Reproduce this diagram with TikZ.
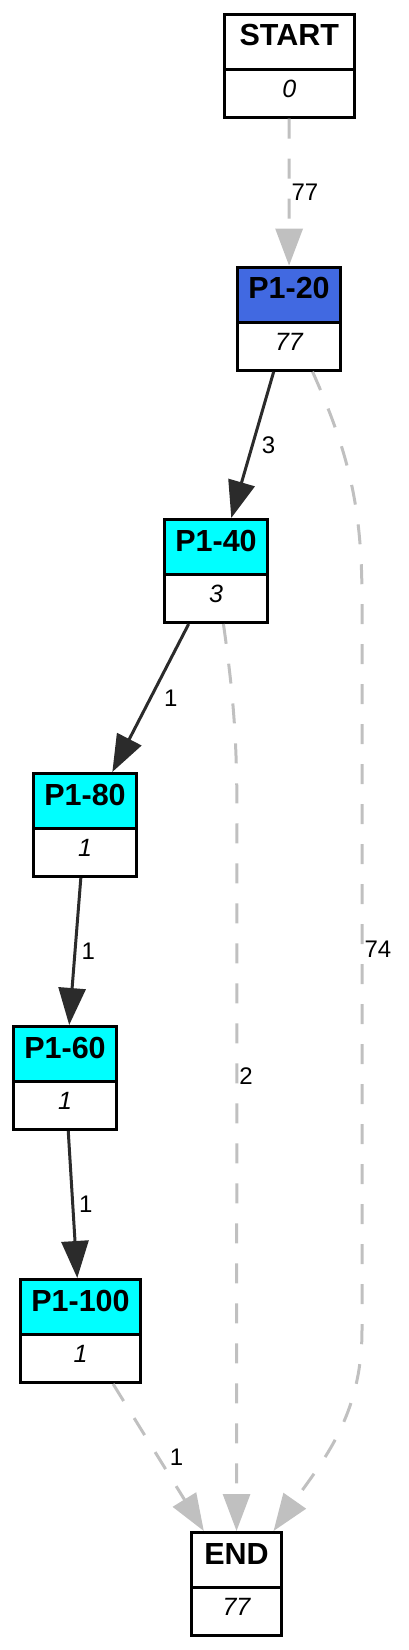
\documentclass[tikz,border=0pt]{standalone}
\usepackage{fontspec}
\setmainfont{Liberation Sans}
\usetikzlibrary{arrows.meta, positioning, fit}
\definecolor{royal}{HTML}{4169E1}
\definecolor{aqua}{HTML}{00FFFF}
\definecolor{edgedark}{HTML}{2B2B2B}
\definecolor{edgegray}{HTML}{C0C0C0}

\begin{document}
\begin{tikzpicture}[x=1pt, y=1pt,
    head/.style={rectangle, draw=black, line width=3pt, outer sep=0pt, inner sep=0pt,
                 minimum height=55pt, font=\fontsize{30.5}{34}\selectfont\bfseries,
                 text height=21.8pt, text depth=13.4pt},
    num/.style={rectangle, draw=black, fill=white, line width=3pt, outer sep=0pt, inner sep=0pt,
                minimum height=48pt, font=\fontsize{25}{30}\selectfont\itshape,
                text height=17.9pt, text depth=9.5pt},
    frame/.style={inner sep=0pt, outer sep=1.5pt},
    flow/.style={-{Triangle[length=37pt, width=27pt]}, line width=3pt, color=edgedark},
    skip/.style={-{Triangle[length=37pt, width=27pt]}, line width=3pt, color=edgegray,
                 dash pattern=on 20pt off 20pt},
    lbl/.style={font=\fontsize{24}{28}\selectfont, text=black, inner sep=1pt}
  ]
    \useasboundingbox (0,0) rectangle (408,-1650);

    % Boxes
    \node[head, fill=white, minimum width=130.3pt] (starth) at (289.3,-41.7) {START};
    \node[num, minimum width=130.3pt, below=0pt of starth] (startn) {0};
    \node[frame, fit=(starth)(startn)] (start) {};

    \node[head, fill=royal, minimum width=103pt] (p20h) at (289,-294.7) {P1-20};
    \node[num, minimum width=103pt, below=0pt of p20h] (p20n) {77};
    \node[frame, fit=(p20h)(p20n)] (p20) {};

    \node[head, fill=aqua, minimum width=103pt] (p40h) at (216,-547) {P1-40};
    \node[num, minimum width=103pt, below=0pt of p40h] (p40n) {3};
    \node[frame, fit=(p40h)(p40n)] (p40) {};

    \node[head, fill=aqua, minimum width=103pt] (p80h) at (85,-801) {P1-80};
    \node[num, minimum width=103pt, below=0pt of p80h] (p80n) {1};
    \node[frame, fit=(p80h)(p80n)] (p80) {};

    \node[head, fill=aqua, minimum width=103pt] (p60h) at (65,-1054) {P1-60};
    \node[num, minimum width=103pt, below=0pt of p60h] (p60n) {1};
    \node[frame, fit=(p60h)(p60n)] (p60) {};

    \node[head, fill=aqua, minimum width=120pt] (p100h) at (80.5,-1307) {P1-100};
    \node[num, minimum width=120pt, below=0pt of p100h] (p100n) {1};
    \node[frame, fit=(p100h)(p100n)] (p100) {};

    \node[head, fill=white, minimum width=90pt] (endh) at (236.5,-1560) {END};
    \node[num, minimum width=90pt, below=0pt of endh] (endn) {77};
    \node[frame, fit=(endh)(endn)] (end) {};

    % Transitions
    \draw[skip] (start) -- node[lbl, right=0pt] {77} (p20);
    \draw[flow] (p20) -- node[lbl, right=7pt] {3} (p40);
    \draw[flow] (p40) -- node[lbl, right=11pt] {1} (p80);
    \draw[flow] (p80) -- node[lbl, right=4pt] {1} (p60);
    \draw[flow] (p60) -- node[lbl, right=4pt] {1} (p100);
    \draw[skip] (p100) -- node[lbl, right=9pt] {1} (end);

    % Skips straight to the end
    \draw[skip] (p40) to[out=-82, in=90] (237,-820)
      -- node[lbl, right=0pt, pos=0.36] {2} (end);
    \draw[skip] (p20) to[out=-66, in=90] (362,-600)
      -- node[lbl, right=0pt, pos=0.478] {74} (362,-1330)
      to[out=-90, in=55] (end);
\end{tikzpicture}
\end{document}
